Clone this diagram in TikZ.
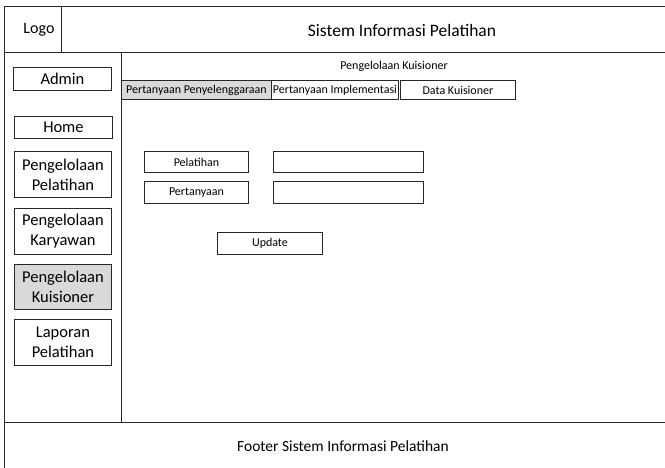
\documentclass[tikz,border=0pt]{standalone}
\usepackage{fontspec}
\setmainfont{Carlito}
\begin{document}
\begin{tikzpicture}[x=1pt,y=-1pt,
  frame/.style={draw=black!85,line width=0.9pt},
  btn/.style={draw=black!85,line width=0.9pt,fill=white,inner sep=0pt,anchor=north west,align=center},
  navtext/.style={font=\fontsize{16.5}{20}\selectfont},
  smalltext/.style={font=\fontsize{12}{14}\selectfont},
  active/.style={fill=black!15}]
\useasboundingbox (0,0) rectangle (665,468);
% page frame, header, sidebar and footer
\draw[frame] (4,6) rectangle (668,471);
\draw[frame] (4,52) -- (668,52);
\draw[frame] (61,6) -- (61,52);
\draw[frame] (121,52) -- (121,422);
\draw[frame] (4,422) -- (668,422);
\node[font=\fontsize{16}{19}\selectfont] (logo) at (39,30) {Logo};
\node[font=\fontsize{17.5}{21}\selectfont] (title) at (402,30) {Sistem Informasi Pelatihan};
\node[font=\fontsize{15.5}{18}\selectfont] (footer) at (343,446) {Footer Sistem Informasi Pelatihan};
% sidebar menu
\node[btn,navtext,minimum width=98pt,minimum height=23pt] (admin) at (13,67) {Admin};
\node[btn,navtext,minimum width=98pt,minimum height=22pt] (home) at (14,116) {Home};
\node[btn,navtext,minimum width=97pt,minimum height=46pt] (mpel) at (14,151) {Pengelolaan\\Pelatihan};
\node[btn,navtext,minimum width=97pt,minimum height=46pt] (mkar) at (14,208) {Pengelolaan\\Karyawan};
\node[btn,navtext,active,minimum width=97pt,minimum height=45pt] (mkui) at (14,264) {Pengelolaan\\Kuisioner};
\node[btn,navtext,minimum width=97pt,minimum height=46pt] (mlap) at (14,319) {Laporan\\Pelatihan};
% content heading and tabs
\node[smalltext] (heading) at (394,66) {Pengelolaan Kuisioner};
\node[btn,smalltext,active,minimum width=150pt,minimum height=19pt] (tab1) at (121,80) {Pertanyaan Penyelenggaraan};
\node[btn,smalltext,minimum width=127pt,minimum height=19pt] (tab2) at (271,80) {Pertanyaan Implementasi};
\node[btn,smalltext,minimum width=115pt,minimum height=19pt] (tab3) at (400,80) {Data Kuisioner};
% form
\node[btn,smalltext,minimum width=104pt,minimum height=21pt] (lpel) at (144,151) {Pelatihan};
\node[btn,minimum width=150pt,minimum height=21pt] (ipel) at (273,151) {};
\node[btn,smalltext,minimum width=104pt,minimum height=22pt] (lper) at (144,181) {Pertanyaan};
\node[btn,minimum width=150pt,minimum height=22pt] (iper) at (273,181) {};
\node[btn,smalltext,minimum width=105pt,minimum height=22pt] (update) at (217,232) {Update};
\end{tikzpicture}
\end{document}
